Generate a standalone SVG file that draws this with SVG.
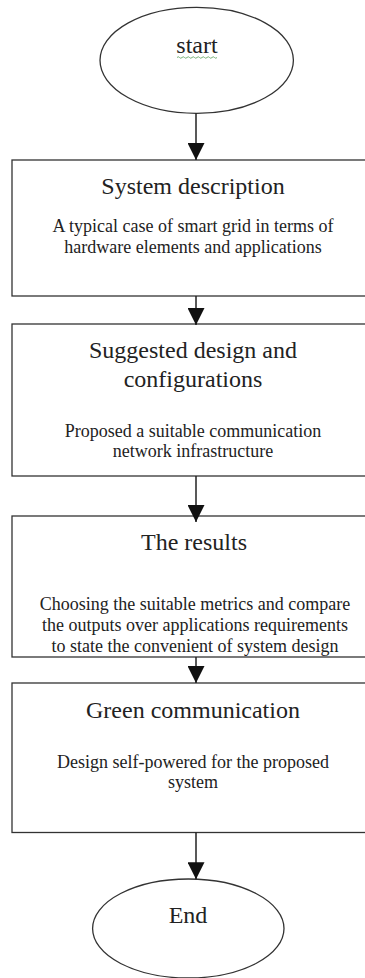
<svg xmlns="http://www.w3.org/2000/svg" width="365" height="978" viewBox="0 0 365 978">
  <defs>
    <style>
      .shape { fill: #ffffff; stroke: #333333; stroke-width: 1.3; }
      .conn { stroke: #222222; stroke-width: 1.5; fill: none; }
      .head { font-family: "Liberation Serif", "Times New Roman", serif; font-size: 24px; fill: #222222; text-anchor: middle; }
      .body { font-family: "Liberation Serif", "Times New Roman", serif; font-size: 18px; fill: #222222; text-anchor: middle; }
    </style>
    <marker id="arrow" markerUnits="userSpaceOnUse" markerWidth="17" markerHeight="17" refX="17" refY="8.5" orient="auto">
      <path d="M0,0 L17,8.5 L0,17 Z" fill="#111111"/>
    </marker>
  </defs>
  <rect width="365" height="978" fill="#ffffff"/>

  <g id="start">
    <ellipse class="shape" cx="196.7" cy="60.3" rx="96.7" ry="53"/>
    <text class="head" x="197" y="53">start</text>
    <path d="M177,57.5 q1.25,-1.5 2.5,0 t2.5,0 t2.5,0 t2.5,0 t2.5,0 t2.5,0 t2.5,0 t2.5,0 t2.5,0 t2.5,0 t2.5,0 t2.5,0 t2.5,0 t2.5,0 t2.5,0 t2.5,0" fill="none" stroke="#6aa86a" stroke-width="0.9"/>
  </g>

  <g id="system-description">
    <rect class="shape" x="12" y="160" width="360" height="136"/>
    <text class="head" x="193" y="194">System description</text>
    <text class="body" x="193" y="231.5">A typical case of smart grid in terms of</text>
    <text class="body" x="193" y="252.5">hardware elements and applications</text>
  </g>

  <g id="suggested-design">
    <rect class="shape" x="12" y="324" width="360" height="152"/>
    <text class="head" x="193" y="358">Suggested design and</text>
    <text class="head" x="193" y="386.5">configurations</text>
    <text class="body" x="193" y="436.5">Proposed a suitable communication</text>
    <text class="body" x="193" y="456.5">network infrastructure</text>
  </g>

  <g id="results">
    <rect class="shape" x="12" y="516" width="360" height="141"/>
    <text class="head" x="194" y="550">The results</text>
    <text class="body" x="195" y="610">Choosing the suitable metrics and compare</text>
    <text class="body" x="195" y="631">the outputs over applications requirements</text>
    <text class="body" x="195" y="651.5">to state the convenient of system design</text>
  </g>

  <g id="green-communication">
    <rect class="shape" x="12" y="683" width="360" height="149.5"/>
    <text class="head" x="193" y="718">Green communication</text>
    <text class="body" x="193" y="768">Design self-powered for the proposed</text>
    <text class="body" x="193" y="788">system</text>
  </g>

  <g id="end">
    <ellipse class="shape" cx="188.3" cy="928.5" rx="95.7" ry="49.5"/>
    <text class="head" x="188" y="923">End</text>
  </g>

  <g id="connectors">
    <line class="conn" x1="196" y1="113.3" x2="196" y2="160" marker-end="url(#arrow)"/>
    <line class="conn" x1="196" y1="296" x2="196" y2="325" marker-end="url(#arrow)"/>
    <line class="conn" x1="196" y1="476" x2="196" y2="522" marker-end="url(#arrow)"/>
    <line class="conn" x1="196" y1="657" x2="196" y2="683" marker-end="url(#arrow)"/>
    <line class="conn" x1="196" y1="832.5" x2="196" y2="879.3" marker-end="url(#arrow)"/>
  </g>
</svg>
